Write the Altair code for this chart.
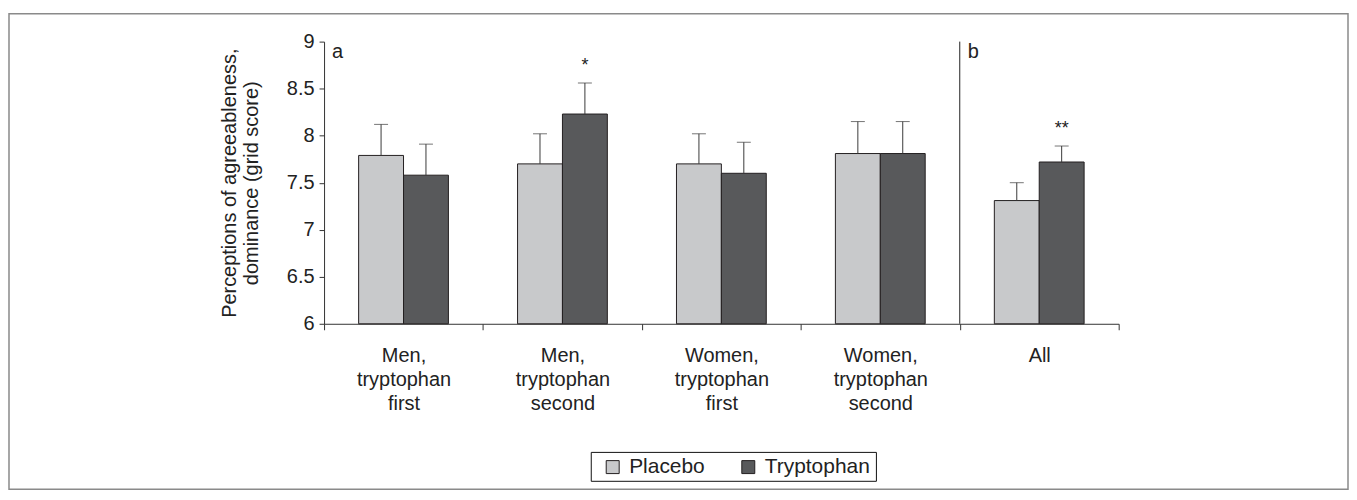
import altair as alt
import pandas as pd

categories = ["Men,\ntryptophan\nfirst", "Men,\ntryptophan\nsecond",
              "Women,\ntryptophan\nfirst", "Women,\ntryptophan\nsecond", "All"]
groups = ["Placebo", "Tryptophan"]
placebo_mean = [7.79, 7.70, 7.70, 7.81, 7.31]
placebo_err = [0.33, 0.32, 0.32, 0.34, 0.19]
trp_mean = [7.58, 8.23, 7.60, 7.81, 7.72]
trp_err = [0.33, 0.33, 0.33, 0.34, 0.17]
trp_sig = ["", "*", "", "", "**"]
panel_labels = ["a", "b"]
panel_label_cats = [categories[0], categories[4]]
y_ticks = [6, 6.5, 7, 7.5, 8, 8.5, 9]

rows = []
for i, c in enumerate(categories):
    rows.append({"cat": c, "group": "Placebo", "mean": placebo_mean[i],
                 "top": placebo_mean[i] + placebo_err[i], "sig": ""})
    rows.append({"cat": c, "group": "Tryptophan", "mean": trp_mean[i],
                 "top": trp_mean[i] + trp_err[i], "sig": trp_sig[i]})
df = pd.DataFrame(rows)

FONT = "Liberation Sans"
xscale = alt.Scale(domain=categories, paddingInner=0, paddingOuter=0)
yscale = alt.Scale(domain=[6, 9], nice=False, zero=False)
offscale = alt.Scale(domain=groups, paddingInner=0, paddingOuter=0.77)
colscale = alt.Scale(domain=groups, range=["#c8c9cb", "#58595b"])

X = alt.X("cat:N", scale=xscale, sort=categories, title=None,
          axis=alt.Axis(labelExpr="split(datum.label, '\\n')", labelAngle=0,
                        tickBand="extent", tickSize=6, labelPadding=16,
                        labelFontSize=20, labelLineHeight=24, labelColor="#222",
                        labelFont=FONT, domainColor="#333", tickColor="#333",
                        labelBaseline="top"))
XO = alt.XOffset("group:N", scale=offscale, sort=groups)
Y = alt.Y("mean:Q", scale=yscale,
          title=["Perceptions of agreeableness,", "dominance (grid score)"],
          axis=alt.Axis(values=y_ticks, format="~g", tickSize=5, grid=False,
                        labelFontSize=20, labelFont=FONT, labelColor="#222",
                        labelPadding=5, titleFontSize=20, titleFont=FONT,
                        titleFontWeight="normal", titleColor="#222",
                        titlePadding=25, titleLineHeight=22,
                        domainColor="#333", tickColor="#333"))

base = alt.Chart(df)

bars = base.mark_bar(stroke="#231f20", strokeWidth=1).encode(
    x=X, xOffset=XO, y=Y, y2=alt.datum(6),
    color=alt.Color("group:N", scale=colscale, sort=groups, title=None,
                    legend=alt.Legend(orient="none", legendX=279, legendY=416,
                                      direction="horizontal", padding=0,
                                      labelFontSize=21, labelFont=FONT,
                                      labelColor="#222", symbolType="square",
                                      symbolSize=169, symbolStrokeColor="#231f20",
                                      symbolStrokeWidth=1, columnPadding=33,
                                      labelOffset=6)),
)

err = base.mark_rule(color="#3a3a3a", strokeWidth=1).encode(
    x=alt.X("cat:N", scale=xscale, sort=categories), xOffset=XO,
    y=alt.Y("mean:Q", scale=yscale), y2="top:Q")

caps = base.mark_tick(color="#3a3a3a", thickness=1, size=14, orient="horizontal").encode(
    x=alt.X("cat:N", scale=xscale, sort=categories), xOffset=XO,
    y=alt.Y("top:Q", scale=yscale))

stars = base.mark_text(fontSize=18, font=FONT, color="#222", dy=-12,
                       baseline="alphabetic").encode(
    x=alt.X("cat:N", scale=xscale, sort=categories), xOffset=XO,
    y=alt.Y("top:Q", scale=yscale), text="sig:N")

pl = pd.DataFrame({"cat": panel_label_cats, "label": panel_labels})
plabels = alt.Chart(pl).mark_text(fontSize=20, font=FONT, color="#222",
                                  align="left", baseline="alphabetic", dx=8, dy=16).encode(
    x=alt.X("cat:N", scale=xscale, sort=categories, bandPosition=0),
    y=alt.datum(9), text="label:N")

divider = alt.Chart(pd.DataFrame({"cat": [categories[4]]})).mark_rule(
    color="#222", strokeWidth=1).encode(
    x=alt.X("cat:N", scale=xscale, sort=categories, bandPosition=0),
    y=alt.datum(6), y2=alt.datum(9))

frame = alt.Chart(pd.DataFrame({"f": [0]})).mark_rect(
    fill=None, stroke="#8a8a8a", strokeWidth=1.5).encode(
    x=alt.value(-316), x2=alt.value(1027), y=alt.value(-28), y2=alt.value(449))

legend_box = alt.Chart(pd.DataFrame({"f": [0]})).mark_rect(
    fill=None, stroke="#111", strokeWidth=1).encode(
    x=alt.value(268), x2=alt.value(554), y=alt.value(412), y2=alt.value(441))

chart = alt.layer(frame, legend_box, bars, err, caps, stars, plabels, divider).properties(
    width=797, height=283,
    padding={"left": 0, "top": 4, "right": 0, "bottom": 0},
).configure(font=FONT).configure_view(stroke=None)

chart.save("out.html", embed_options={"renderer": "svg", "actions": False})
